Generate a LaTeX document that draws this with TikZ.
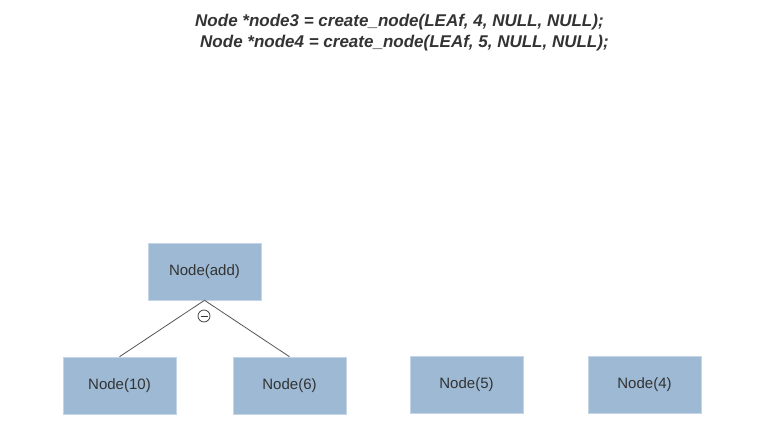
\documentclass[tikz,border=0pt]{standalone}
\usepackage{fontspec}
\setmainfont{Liberation Sans}
\usetikzlibrary{shapes.geometric, arrows}
\usetikzlibrary{calc, shapes, backgrounds}
\definecolor{boxblue}{HTML}{9DB9D4}
\definecolor{boxedge}{HTML}{C4D5E5}
\definecolor{txtgray}{HTML}{333333}
\definecolor{linegray}{HTML}{555555}
\tikzstyle{treenode} = [rectangle, minimum width=113pt, minimum height=57pt, text centered, text depth=2pt, draw=boxedge, line width=0.6pt, fill=boxblue, text=txtgray, font=\fontsize{15}{18}\selectfont]
\tikzstyle{codeline} = [anchor=base west, inner sep=0pt, text=txtgray, font=\fontsize{17}{20}\selectfont\bfseries\itshape]
\tikzstyle{edge} = [draw=linegray, line width=0.8pt]
\tikzstyle{opsign} = [circle, draw=txtgray, line width=0.7pt, minimum size=12pt, inner sep=0pt, text=txtgray]

\begin{document}
\begin{tikzpicture}[x=1pt, y=1pt, node distance=114pt]
			\useasboundingbox[fill=white] (0,0) rectangle (781,437);
			\node(code3)[codeline] at (195,410.3) {Node *node3 = create\_node(LEAf, 4, NULL, NULL);};
			\node(code4)[codeline] at (200,389.7) {Node *node4 = create\_node(LEAf, 5, NULL, NULL);};
			\node(add)[treenode] at (204.5,165.5) {Node(add)};
			\node(ten)[treenode, below of=add, xshift=-85pt]{Node(10)};
			\node(six)[treenode, right of=ten, xshift=56pt]{Node(6)};
			\node(five)[treenode, right of=six, xshift=63pt, yshift=1pt]{Node(5)};
			\node(four)[treenode, right of=five, xshift=64pt]{Node(4)};
			\node(sign)[opsign] at (204,121) {};
			
			\draw [edge] (add.south) -- (ten.north);
			\draw [edge] (add.south) -- (six.north);
			\draw [edge, line width=0.7pt, draw=txtgray] ($(sign.center)+(-3.5pt,0)$) -- ($(sign.center)+(3.5pt,0)$);
		\end{tikzpicture}
\end{document}
